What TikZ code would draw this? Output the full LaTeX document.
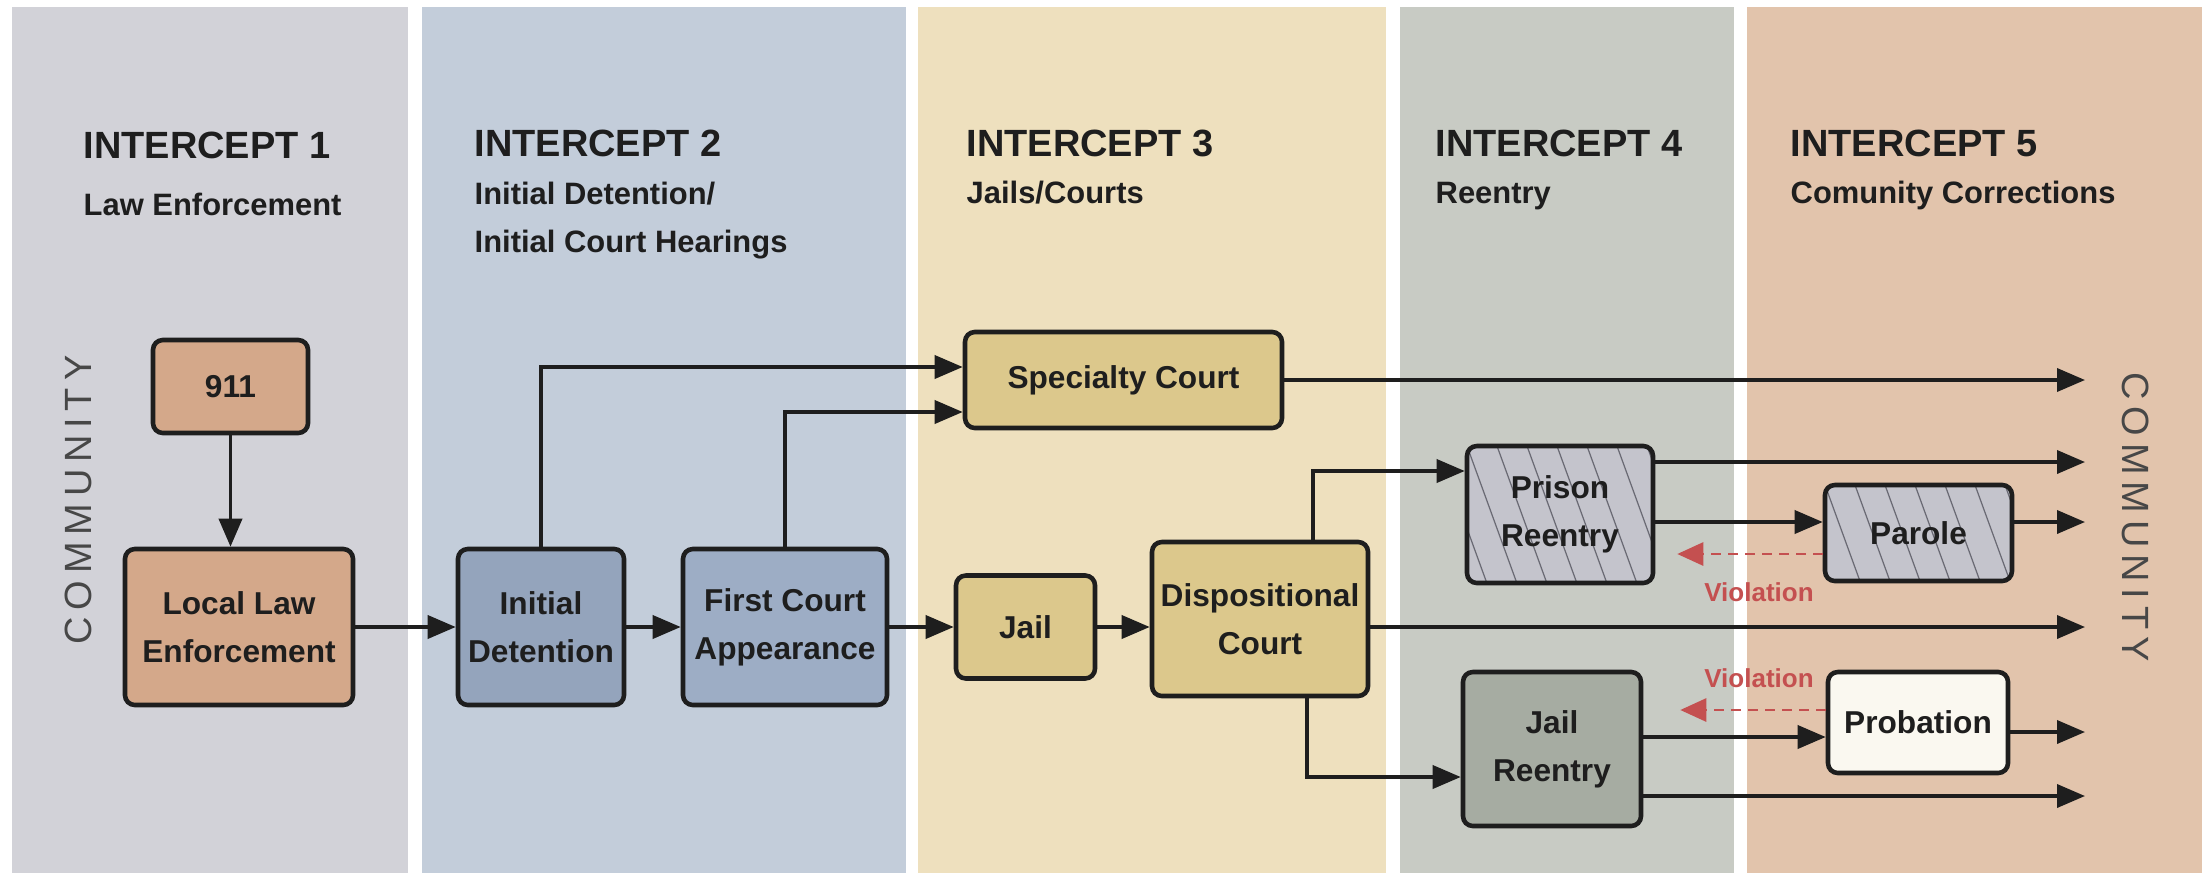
\documentclass[tikz,border=0pt]{standalone}
\usepackage{fontspec}
\setmainfont{Liberation Sans}
\newfontfamily\commfont[LetterSpace=18]{Liberation Sans}
\usetikzlibrary{arrows.meta,calc}
\definecolor{LaneGray}{HTML}{D2D2D8}
\definecolor{LaneBlue}{HTML}{C3CDDA}
\definecolor{LaneSand}{HTML}{EEE0BE}
\definecolor{LaneSage}{HTML}{C8CBC4}
\definecolor{LanePeach}{HTML}{E2C4AC}
\definecolor{BoxTan}{HTML}{D4A88A}
\definecolor{BoxBlue}{HTML}{94A4BC}
\definecolor{BoxBlueLt}{HTML}{9DADC5}
\definecolor{BoxKhaki}{HTML}{DCC88C}
\definecolor{BoxLilac}{HTML}{C4C4CC}
\definecolor{BoxSage}{HTML}{A6ACA2}
\definecolor{BoxCream}{HTML}{FAF8F0}
\definecolor{InkDark}{HTML}{1E1E1E}
\definecolor{ViolRed}{HTML}{C45050}
\definecolor{CommGray}{HTML}{474747}
\definecolor{HatchGray}{HTML}{6A6A74}

\begin{document}
\begin{tikzpicture}[
    stagebox/.style={
      draw=InkDark,
      line width=1.3pt,
      rounded corners=2.8pt,
      align=center,
      inner sep=0pt,
      text=InkDark,
      font=\fontsize{9}{13.7}\selectfont\bfseries
    },
    hatched/.style={
      path picture={
        \foreach \k in {0,...,9}
          \draw[HatchGray,line width=0.35pt]
            ([xshift=\k*3mm-6mm]path picture bounding box.north west) -- ++(0.6,-1.65);
      }
    },
    flow/.style={draw=InkDark,line width=1.05pt,-{Triangle[length=2.8mm,width=2.3mm]}},
    violflow/.style={draw=ViolRed,line width=0.8pt,dash pattern=on 1mm off 0.7mm,
      -{Triangle[length=2.6mm,width=2.3mm]}},
    lanehead/.style={anchor=base west,inner sep=0pt,text=InkDark,
      font=\fontsize{10.8}{13}\selectfont\bfseries},
    lanesub/.style={anchor=base west,inner sep=0pt,text=InkDark,
      font=\fontsize{8.8}{13.7}\selectfont\bfseries},
    violtext/.style={inner sep=0pt,text=ViolRed,font=\fontsize{7.4}{9}\selectfont\bfseries},
    commtext/.style={inner sep=0pt,text=CommGray,font=\commfont\fontsize{10.8}{13}\selectfont}
  ]

    \useasboundingbox (0,0) rectangle (22.02,-8.80);

    % Lanes
    \fill[LaneGray]  (0.12,-0.07) rectangle (4.08,-8.73);
    \fill[LaneBlue]  (4.22,-0.07) rectangle (9.06,-8.73);
    \fill[LaneSand]  (9.18,-0.07) rectangle (13.86,-8.73);
    \fill[LaneSage]  (14.00,-0.07) rectangle (17.34,-8.73);
    \fill[LanePeach] (17.47,-0.07) rectangle (22.02,-8.73);

    % Lane headings
    \node[lanehead] (h1) at (0.83,-1.58) {INTERCEPT 1};
    \node[lanesub] (s1) at (0.83,-2.15) {Law Enforcement};
    \node[lanehead] (h2) at (4.74,-1.56) {INTERCEPT 2};
    \node[lanesub] (s2a) at (4.74,-2.04) {Initial Detention/};
    \node[lanesub] (s2b) at (4.74,-2.52) {Initial Court Hearings};
    \node[lanehead] (h3) at (9.66,-1.56) {INTERCEPT 3};
    \node[lanesub] (s3) at (9.66,-2.03) {Jails/Courts};
    \node[lanehead] (h4) at (14.35,-1.56) {INTERCEPT 4};
    \node[lanesub] (s4) at (14.35,-2.03) {Reentry};
    \node[lanehead] (h5) at (17.90,-1.56) {INTERCEPT 5};
    \node[lanesub] (s5) at (17.90,-2.03) {Comunity Corrections};

    % Community on both sides
    \node[commtext,rotate=90] (commL) at (0.785,-5.00) {COMMUNITY};
    \node[commtext,rotate=-90] (commR) at (21.36,-5.17) {COMMUNITY};
    \coordinate (out) at (20.85,-5.17);

    % Stages
    \node[stagebox,fill=BoxTan,minimum width=1.55cm,minimum height=0.93cm] (call) at (2.305,-3.865) {911};
    \node[stagebox,fill=BoxTan,minimum width=2.28cm,minimum height=1.56cm] (police) at (2.39,-6.27) {Local Law\\Enforcement};
    \node[stagebox,fill=BoxBlue,minimum width=1.66cm,minimum height=1.56cm] (detain) at (5.41,-6.27) {Initial\\Detention};
    \node[stagebox,fill=BoxBlueLt,minimum width=2.04cm,minimum height=1.56cm] (appear) at (7.85,-6.27) {First Court\\Appearance};
    \node[stagebox,fill=BoxKhaki,minimum width=3.17cm,minimum height=0.96cm] (special) at (11.235,-3.80) {Specialty Court};
    \node[stagebox,fill=BoxKhaki,minimum width=1.39cm,minimum height=1.03cm] (jail) at (10.255,-6.27) {Jail};
    \node[stagebox,fill=BoxKhaki,minimum width=2.16cm,minimum height=1.54cm] (dispo) at (12.60,-6.19) {Dispositional\\Court};
    \node[stagebox,hatched,fill=BoxLilac,minimum width=1.86cm,minimum height=1.37cm] (prison) at (15.60,-5.145) {Prison\\Reentry};
    \node[stagebox,hatched,fill=BoxLilac,minimum width=1.87cm,minimum height=0.96cm] (parole) at (19.185,-5.33) {Parole};
    \node[stagebox,fill=BoxSage,minimum width=1.78cm,minimum height=1.54cm] (jailre) at (15.52,-7.49) {Jail\\Reentry};
    \node[stagebox,fill=BoxCream,minimum width=1.80cm,minimum height=1.01cm] (probation) at (19.18,-7.225) {Probation};

    % Main flow
    \draw[flow] (call.south) -- (call.south |- police.north);
    \draw[flow] (police.east) -- (detain.west);
    \draw[flow] (detain.east) -- (appear.west);
    \draw[flow] (appear.east) -- (jail.west);
    \draw[flow] (jail.east) -- (jail.east -| dispo.west);
    \draw[flow] (detain.north) |- ($(special.west)+(0,0.13)$);
    \draw[flow] (appear.north) |- ($(special.west)+(0,-0.32)$);
    \draw[flow] (special.east) -- (special.east -| out);

    % Disposition and reentry
    \draw[flow] ($(dispo.north)+(0.53,0)$) |- ($(prison.west)+(0,0.435)$);
    \draw[flow] ($(dispo.south)+(0.47,0)$) |- ($(jailre.west)+(0,-0.28)$);
    \draw[flow] ($(dispo.east)+(0,-0.08)$) -- ($(dispo.east -| out)+(0,-0.08)$);
    \draw[flow] ($(prison.east)+(0,0.525)$) -- ($(prison.east -| out)+(0,0.525)$);
    \draw[flow] ($(prison.east)+(0,-0.075)$) -- ($(prison.east -| parole.west)+(0,-0.075)$);
    \draw[flow] ($(parole.east)+(0,0.11)$) -- ($(parole.east -| out)+(0,0.11)$);
    \draw[flow] ($(jailre.east)+(0,0.12)$) -- ($(jailre.east -| probation.west)+(0,0.12)$);
    \draw[flow] ($(probation.east)+(0,-0.095)$) -- ($(probation.east -| out)+(0,-0.095)$);
    \draw[flow] ($(jailre.east)+(0,-0.47)$) -- ($(jailre.east -| out)+(0,-0.47)$);

    % Violations
    \draw[violflow,shorten >=0.22cm] ($(parole.west)+(0,-0.21)$) -- ($(parole.west -| prison.east)+(0,-0.21)$);
    \draw[violflow,shorten >=0.37cm] ($(probation.west)+(0,0.125)$) -- ($(probation.west -| jailre.east)+(0,0.125)$);
    \node[violtext] (viol1) at (17.59,-5.92) {Violation};
    \node[violtext] (viol2) at (17.59,-6.78) {Violation};
  \end{tikzpicture}
\end{document}
